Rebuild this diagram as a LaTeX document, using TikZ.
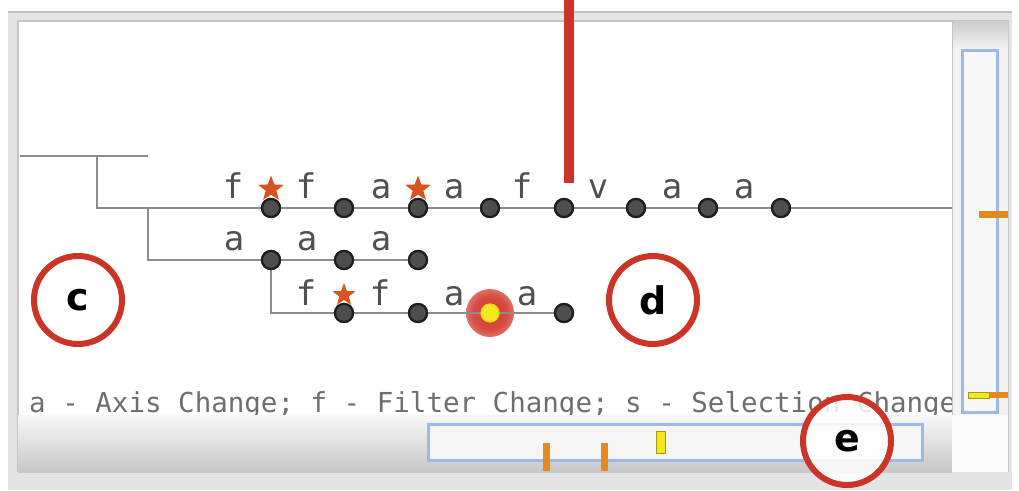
\documentclass[tikz,border=0pt]{standalone}
\usepackage{fontspec}
\setmainfont{DejaVu Sans}
\newfontfamily\monofam{DejaVu Sans Mono}
\usetikzlibrary{shapes.geometric}

\definecolor{framegray}{HTML}{E4E4E4}
\definecolor{rimgray}{HTML}{C4C4C4}
\definecolor{treeline}{HTML}{8C8C8C}
\definecolor{dotfill}{HTML}{4E4E4E}
\definecolor{dotrim}{HTML}{1E1E1E}
\definecolor{starc}{HTML}{D9531E}
\definecolor{callout}{HTML}{CB3426}
\definecolor{thumbblue}{HTML}{9DB9EA}
\definecolor{tickorange}{HTML}{E3891E}
\definecolor{hiyellow}{HTML}{F2E81C}
\definecolor{hirim}{HTML}{A89A10}
\definecolor{labelgray}{HTML}{505050}
\definecolor{legendgray}{HTML}{6E6E6E}

% soft red halo around the current state
\pgfdeclareradialshading{halo}{\pgfpoint{0bp}{0bp}}{%
  rgb(0bp)=(0.82,0.22,0.18); rgb(18bp)=(0.84,0.30,0.26);
  rgb(30bp)=(0.90,0.55,0.52); rgb(42bp)=(0.99,0.90,0.90); rgb(50bp)=(1,1,1)}

\begin{document}
\begin{tikzpicture}[x=1pt,y=-1pt,
  tree/.style={draw=treeline, line width=1.8pt},
  dot/.style={circle, fill=dotfill, draw=dotrim, line width=2.2pt,
    minimum size=18pt, inner sep=0pt},
  curdot/.style={circle, fill=hiyellow, draw=hiyellow!80!orange, line width=1pt,
    minimum size=18pt, inner sep=0pt},
  evt/.style={font=\monofam\fontsize{34}{34}\selectfont, text=labelgray,
    anchor=base, inner sep=0pt},
  starmark/.style={star, star points=5, star point ratio=2.4, fill=starc,
    minimum size=27pt, inner sep=0pt},
  callring/.style={circle, draw=callout, line width=6pt, fill=white,
    minimum size=88pt, inner sep=0pt,
    font=\fontsize{38}{38}\selectfont\bfseries},
  thumb/.style={draw=thumbblue, line width=3pt},
  tick/.style={fill=tickorange},
]
\useasboundingbox (0,0) rectangle (1019,490);
\fill[white] (0,0) rectangle (1019,490);

% window frame and content panel
\fill[framegray] (8,12) rectangle (1012,490);
\draw[rimgray, line width=1.2pt] (8,12) -- (1012,12);
\fill[white] (18,21) rectangle (1008,472);
\draw[rimgray, line width=1.5pt] (18,472) -- (18,21) -- (1008,21) -- (1008,472);

% legend line (partly hidden by the scroll bar)
\node[font=\monofam\fontsize{27.5}{27.5}\selectfont, text=legendgray,
  anchor=base west, inner sep=0pt] (legend) at (29,412)
  {a - Axis Change; f - Filter Change; s - Selection Change;};

% vertical overview bar
\fill[black!5] (952,21) rectangle (1008,415);
\shade[top color=black!20, bottom color=black!5] (952,21) rectangle (1008,48);
\draw[rimgray, line width=1pt] (952,21) -- (952,415);
\fill[black!3] (962,50) rectangle (997,412);
\draw[thumb] (962,50) rectangle (997,412);
\fill[tick] (979,211) rectangle (1008,218);
\fill[tick] (988,392) rectangle (1008,398);
\filldraw[fill=hiyellow, draw=hirim, line width=0.8pt] (968,392) rectangle (989,398);

% horizontal overview bar
\shade[top color=black!3, bottom color=black!22] (18,415) rectangle (952,472);
\fill[black!2] (952,415) rectangle (1008,472);
\fill[black!4] (428,424) rectangle (922,460);
\draw[thumb] (428,424) rectangle (922,460);
\fill[tick] (543,443) rectangle (550,471);
\fill[tick] (601,443) rectangle (608,471);
\filldraw[fill=hiyellow, draw=hirim, line width=0.8pt] (656,431) rectangle (665,453);

% branch points of the history tree
\coordinate (rootL) at (20,156);
\coordinate (rootR) at (148,156);
\coordinate (fork1) at (97,156);
\coordinate (fork2) at (148,208);
\coordinate (mainEnd) at (952,208);

% stars marking saved states (behind the dots)
\node[starmark] (s1) at (271,189) {};
\node[starmark] (s2) at (418,189) {};
\node[starmark, minimum size=24pt] (s3) at (344,295) {};

% state dots
\foreach \i/\x in {1/271,2/344,3/418,4/490,5/564,6/636,7/708,8/781}
  \node[dot] (a\i) at (\x,208) {};
\foreach \i/\x in {1/271,2/344,3/418}
  \node[dot] (b\i) at (\x,260) {};
\foreach \i/\x in {1/344,2/418,4/564}
  \node[dot] (c\i) at (\x,313) {};

% tree connectors
\draw[tree] (rootL) -- (rootR);
\draw[tree] (fork1) |- (a1);
\draw[tree] (a1) -- (a2) -- (a3) -- (a4) -- (a5) -- (a6) -- (a7) -- (a8) -- (mainEnd);
\draw[tree] (fork2) |- (b1);
\draw[tree] (b1) -- (b2) -- (b3);
\draw[tree] (b1) |- (c1);
\draw[tree] (c1) -- (c2);

% current state with its halo
\shade[shading=halo] (490,313) circle (24);
\node[curdot] (c3) at (490,313) {};
\draw[tree] (c2) -- (c3);
\draw[tree] (c3) -- (c4);

% redraw dots over the connectors
\foreach \n in {a1,a2,a3,a4,a5,a6,a7,a8,b1,b2,b3,c1,c2,c4}
  \node[dot] at (\n) {};
\node[curdot] at (c3) {};

% event labels
\foreach \x/\t in {233/f,306/f,381/a,454/a,522/f,598/v,672/a,744/a}
  \node[evt] at (\x,198) {\t};
\foreach \x in {234,307,381}
  \node[evt] at (\x,250) {a};
\foreach \x/\t in {306/f,380/f,454/a,527/a}
  \node[evt] at (\x,305) {\t};

% callout line
\coordinate (pinTop) at (569,0);
\coordinate (pinEnd) at (569,183);
\draw[callout, line width=10pt] (pinTop) -- (pinEnd);

% lettered rings
\node[callring] (ringc) at (78,300) {c};
\node[callring] (ringd) at (653,300) {d};
\node[callring, fill opacity=0.85, text opacity=1] (ringe) at (847,441) {e};
\end{tikzpicture}
\end{document}
